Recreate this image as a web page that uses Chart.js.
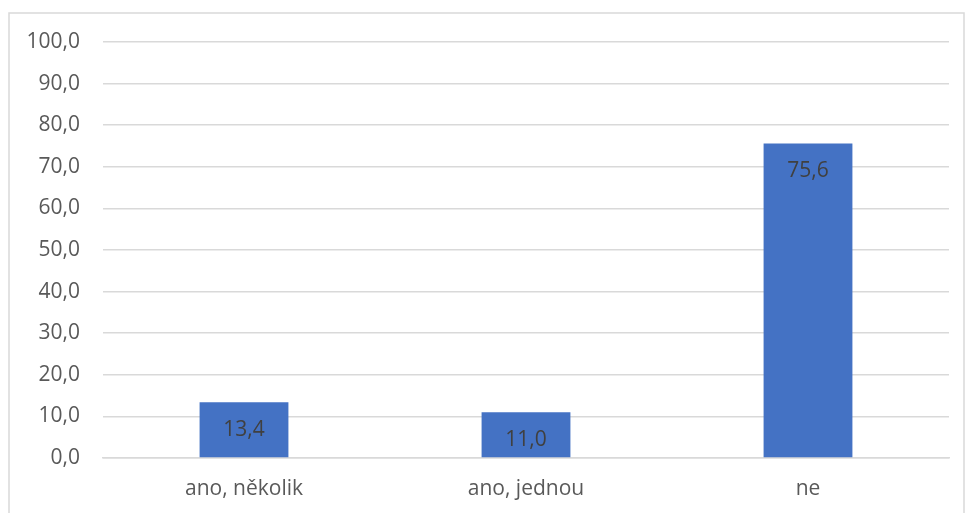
<!DOCTYPE html>
<html>
<head>
<meta charset="utf-8">
<script src="https://cdn.jsdelivr.net/npm/chart.js@4.4.0/dist/chart.umd.min.js"></script>
<style>
  html, body { margin: 0; padding: 0; background: #fff; }
  #wrap { position: absolute; left: 0; top: 0; width: 967px; height: 513px; }
</style>
</head>
<body>
<div id="wrap"><canvas id="chart"></canvas></div>
<script>
// chart data
var categories = ['ano, několik', 'ano, jednou', 'ne'];
var values = [13.4, 11.0, 75.6];
var yTicks = [0, 10, 20, 30, 40, 50, 60, 70, 80, 90, 100];

var barColor = '#4472C4';
var gridColor = '#d9d9d9';
var fontFamily = "'Open Sans', 'Noto Sans', sans-serif";
var fontSize = 21;

function fmt(v) {
  return v.toFixed(1).replace('.', ',');
}

// outer frame like the office chart box
var framePlugin = {
  id: 'frame',
  beforeDraw: function(chart) {
    var ctx = chart.ctx;
    ctx.save();
    ctx.strokeStyle = gridColor;
    ctx.lineWidth = 1.5;
    ctx.strokeRect(9, 13, 955, 530);
    ctx.restore();
  }
};

// value labels, inside end of each bar
var valueLabels = {
  id: 'valueLabels',
  afterDatasetsDraw: function(chart) {
    var ctx = chart.ctx;
    var meta = chart.getDatasetMeta(0);
    ctx.save();
    ctx.font = fontSize + 'px ' + fontFamily;
    ctx.fillStyle = '#404040';
    ctx.textAlign = 'center';
    ctx.textBaseline = 'middle';
    meta.data.forEach(function(bar, i) {
      ctx.fillText(fmt(values[i]), bar.x, bar.y + 28);
    });
    ctx.restore();
  }
};

new Chart(document.getElementById('chart'), {
  type: 'bar',
  data: {
    labels: categories,
    datasets: [{
      data: values,
      backgroundColor: barColor,
      borderWidth: 0,
      barPercentage: 0.63,
      categoryPercentage: 0.5
    }]
  },
  options: {
    responsive: true,
    maintainAspectRatio: false,
    animation: false,
    layout: { padding: { top: 42, right: 18, bottom: 0, left: 0 } },
    plugins: {
      legend: { display: false },
      tooltip: { enabled: false }
    },
    scales: {
      x: {
        grid: { display: false, drawTicks: false },
        border: { display: true, color: gridColor, width: 1.5 },
        ticks: { color: '#595959', font: { family: fontFamily, size: fontSize }, padding: 18, maxRotation: 0 },
        afterFit: function(scale) { scale.height = 55; }
      },
      y: {
        min: 0,
        max: 100,
        afterBuildTicks: function(scale) {
          scale.ticks = yTicks.map(function(v) { return { value: v }; });
        },
        grid: { color: gridColor, lineWidth: 1.5, drawTicks: false },
        border: { display: false },
        ticks: {
          color: '#595959',
          font: { family: fontFamily, size: fontSize },
          padding: 23,
          callback: function(v) { return fmt(v); }
        },
        afterFit: function(scale) { scale.width = 103; }
      }
    }
  },
  plugins: [framePlugin, valueLabels]
});
</script>
</body>
</html>
